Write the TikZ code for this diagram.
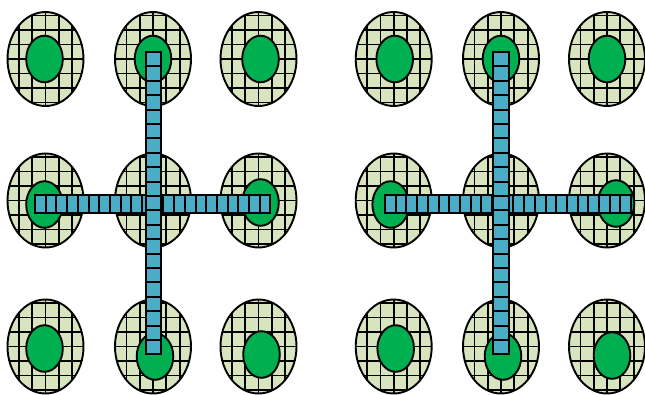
\documentclass[tikz,border=0pt]{standalone}
\usetikzlibrary{calc}
\definecolor{meshfill}{HTML}{D7E4BD}
\definecolor{nucleusfill}{HTML}{00B050}
\definecolor{tubefill}{HTML}{4BACC6}
\newcommand{\meshcell}[1]{% meshed oval cell centered at (#1)
  % mesh is clipped to the oval, outline drawn last so it stays on top
  \begin{scope}
    \clip (#1) ellipse (38pt and 47pt);
    \fill[meshfill] (#1) ellipse (38pt and 47pt);
    \foreach \i in {-2,...,2}
      \draw[line width=1.8pt] ($(#1)+(\i*13.3,-50)$) -- ++(0,100);
    \foreach \j in {-3,...,3}
      \draw[line width=1.8pt] ($(#1)+(-40,\j*14.5)$) -- ++(80,0);
  \end{scope}
  \draw[line width=1.9pt] (#1) ellipse (38pt and 47pt);
}
\newcommand{\nucleus}[2]{% green nucleus, (#2) off the cell centre (#1)
  \draw[line width=1.9pt, fill=nucleusfill] ($(#1)+(#2)$) ellipse (18.3pt and 23.3pt);
}
\newcommand{\tubeh}[2]{% horizontal tube from (#1), #2 segments
  \foreach \k in {1,...,#2}
    \draw[line width=2pt, fill=tubefill] ($(#1)+(\k*10.7-10.7,0)$) rectangle ++(10.7,18);
}
\newcommand{\tubev}[2]{% vertical tube from (#1) downwards, #2 segments
  \foreach \k in {1,...,#2}
    \draw[line width=2pt, fill=tubefill] ($(#1)+(0,\k*14.4-14.4)$) rectangle ++(15.5,14.4);
}

\begin{document}
\begin{tikzpicture}[x=1pt,y=-1pt]
  \useasboundingbox (0,0) rectangle (645,394);
  % left group
  \meshcell{45.5,59}   \nucleus{45.5,59}{-1,0}
  \meshcell{153,59}    \nucleus{153,59}{0,0}
  \meshcell{258.5,59}  \nucleus{258.5,59}{2,0}
  \meshcell{45.5,200.5}  \nucleus{45.5,200.5}{-1,4}
  \meshcell{153,200.5}
  \meshcell{258.5,200.5} \nucleus{258.5,200.5}{2,2}
  \meshcell{45.5,346.5}  \nucleus{45.5,346.5}{-1,2}
  \meshcell{153,346.5}   \nucleus{153,346.5}{2,10}
  \meshcell{258.5,346.5} \nucleus{258.5,346.5}{3,8}
  \tubeh{35,195}{22}
  \tubev{145.5,52}{21}
  % right group
  \meshcell{393.7,59}  \nucleus{393.7,59}{1,0}
  \meshcell{501,59}    \nucleus{501,59}{0,0}
  \meshcell{607,59}    \nucleus{607,59}{0,0}
  \meshcell{393.7,200.5} \nucleus{393.7,200.5}{-3,4}
  \meshcell{501,200.5}
  \meshcell{607,200.5}   \nucleus{607,200.5}{9,3}
  \meshcell{393.7,346.5} \nucleus{393.7,346.5}{2,2}
  \meshcell{501,346.5}   \nucleus{501,346.5}{2,10}
  \meshcell{607,346.5}   \nucleus{607,346.5}{5,9}
  \tubeh{385,195}{23}
  \tubev{493,52}{21}
\end{tikzpicture}
\end{document}
